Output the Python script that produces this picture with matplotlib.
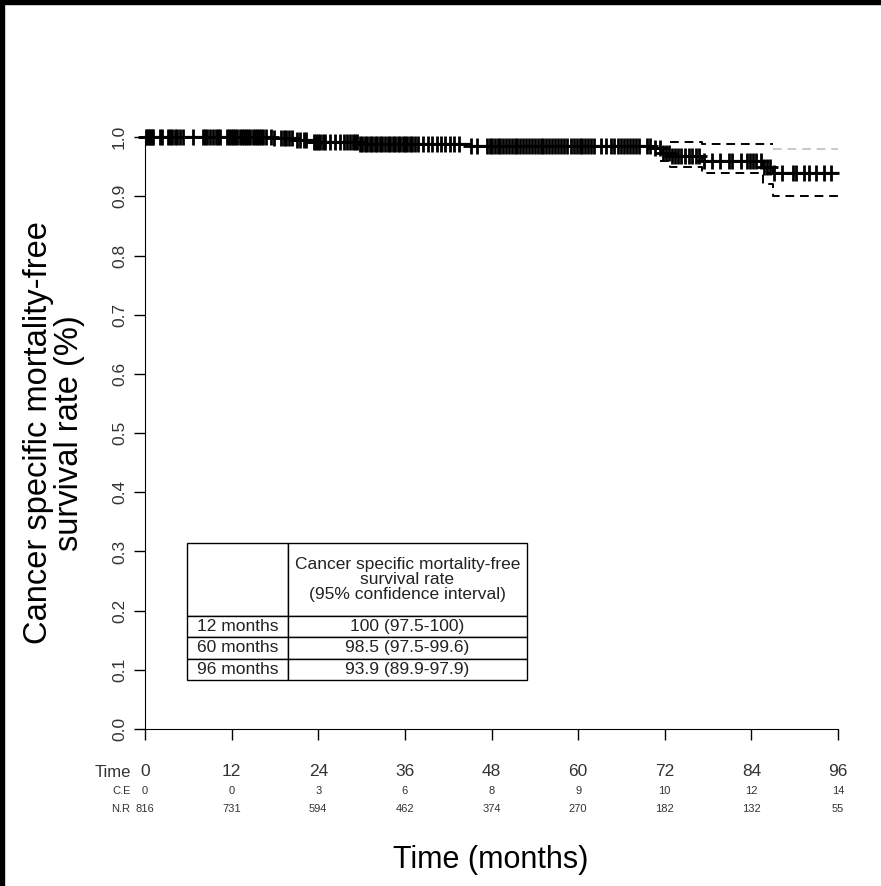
import matplotlib
matplotlib.use('Agg')
import matplotlib.pyplot as plt
import matplotlib.patches as mpatches
import numpy as np

plt.rcParams['font.family'] = ['Liberation Sans', 'DejaVu Sans']

# Kaplan-Meier steps (months, survival)
event_t = [0, 17.5, 21.0, 23.3, 29.5, 45.0, 70.4, 71.6, 72.7, 77.1, 85.6, 87.0]
surv = [1.0, 0.998, 0.996, 0.992, 0.989, 0.985, 0.981, 0.974, 0.968, 0.960, 0.949, 0.939]
t_end = 96

# 95% CI (visible part only)
upper_t = [72.7, 77.1, 87.0]
upper = [0.991, 0.988, 0.980]
lower_t = [71.3, 72.7, 77.1, 85.6, 87.0]
lower = [0.960, 0.949, 0.939, 0.921, 0.901]

# censoring times (months)
censored = [0.1, 0.3, 0.5, 0.7, 0.9, 1.1, 2.1, 2.4, 3.2, 3.5, 3.8, 4.1, 4.4, 4.9, 5.3, 6.6,
            8.0, 8.3, 8.6, 9.0, 9.4, 9.8, 10.1, 10.4,
            11.3, 11.6, 11.9, 12.2, 12.5, 12.8, 13.1, 13.4, 13.7, 14.0, 14.3, 14.6, 14.9,
            15.2, 15.5, 15.8, 16.1, 16.4, 16.8, 17.4, 17.9, 18.8, 19.2, 19.6, 20.0, 20.4,
            21.1, 21.5, 22.0, 22.3, 23.4, 23.7, 24.0, 24.3, 24.7, 25.0, 25.6, 26.3, 27.0,
            27.6, 28.0, 28.4, 28.8, 29.1, 29.4, 29.8, 30.1, 30.5, 30.8, 31.1, 31.5, 31.8,
            32.1, 32.5, 32.8, 33.2, 33.6, 34.0, 34.3, 34.6, 35.0, 35.3, 35.7, 36.0, 36.3,
            36.7, 37.0, 37.4, 37.8, 38.5, 39.2, 39.8, 40.5, 41.0, 41.6, 42.3, 42.8, 43.5,
            45.2, 46.0, 47.4, 47.8, 48.1, 48.5, 48.9, 49.2, 49.6, 50.0, 50.4, 50.8, 51.2,
            51.6, 52.0, 52.4, 52.8, 53.2, 53.6, 54.0, 54.4, 54.8, 55.2, 55.6, 56.0, 56.4,
            56.8, 57.2, 57.6, 58.0, 58.5, 59.0, 59.4, 59.8, 60.2, 60.6, 61.0, 61.4, 61.8,
            62.2, 63.2, 63.8, 64.5, 65.0, 65.5, 66.0, 66.4, 66.8, 67.2, 67.6, 68.0, 68.4,
            69.6, 70.0, 70.6, 71.4, 71.8, 72.2, 72.6, 73.0, 73.4, 73.8, 74.3, 74.8, 75.3,
            75.8, 76.3, 76.8, 77.5, 78.6, 79.7, 80.9, 81.3, 82.5, 83.4, 83.8, 84.2, 84.6,
            85.3, 85.7, 86.2, 86.6, 87.2, 88.3, 89.7, 90.2, 91.3, 92.0, 93.0, 94.1, 95.0]

# risk table
time_ticks = [0, 12, 24, 36, 48, 60, 72, 84, 96]
cum_events = [0, 0, 3, 6, 8, 9, 10, 12, 14]
n_risk = [816, 731, 594, 462, 374, 270, 182, 132, 55]

table_rows = ['12 months', '60 months', '96 months']
table_vals = ['100 (97.5-100)', '98.5 (97.5-99.6)', '93.9 (89.9-97.9)']
table_head = 'Cancer specific mortality-free\nsurvival rate\n(95% confidence interval)'

fig = plt.figure(figsize=(8.81, 8.86), dpi=100)
ax = fig.add_axes([0.1646, 0.1772, 0.7866, 0.668])

# curve
ax.step(event_t + [t_end], surv + [surv[-1]], where='post', color='k', lw=1.6, clip_on=False)
s_cens = np.array(surv)[np.searchsorted(event_t, censored, side='right') - 1]
ax.plot(censored, s_cens, ls='none', marker='+', ms=12, mew=2.0, color='k', clip_on=False)

dash = (0, (4.5, 3))
ax.step(upper_t[:-1] + [upper_t[-1]], upper[:-1] + [upper[-2]], where='post',
        color='k', lw=1.4, ls=dash)
ax.step(upper_t[-1:] + [t_end], upper[-1:] + [upper[-1]], where='post',
        color='#c8c8c8', lw=1.4, ls=dash)
ax.step(lower_t + [t_end], lower + [lower[-1]], where='post', color='k', lw=1.4, ls=dash)

ax.set_xlim(0, 96)
ax.set_ylim(0, 1.0)
for s in ['top', 'right']:
    ax.spines[s].set_visible(False)
ax.spines['left'].set_bounds(0, 1)
ax.spines['bottom'].set_bounds(0, 96)

ax.set_yticks(np.linspace(0, 1, 11))
ax.set_yticklabels(['%.1f' % v for v in np.linspace(0, 1, 11)], rotation=90,
                   va='center', color='#333333')
ax.tick_params(axis='y', length=8, width=1, pad=5, labelsize=12.5)

ax.set_xticks(time_ticks)
ax.set_xticklabels([str(t) for t in time_ticks], color='#333333')
ax.tick_params(axis='x', length=8, width=1, pad=17, labelsize=12.5)

tr = ax.get_xaxis_transform()
ax.text(-2.0, -0.0735, 'Time', transform=tr, ha='right', va='center', fontsize=12, color='#333333')
ax.text(-2.0, -0.104, 'C.E', transform=tr, ha='right', va='center', fontsize=8, color='#333333')
ax.text(-2.0, -0.1345, 'N.R', transform=tr, ha='right', va='center', fontsize=8, color='#333333')
for t, ce, nr in zip(time_ticks, cum_events, n_risk):
    ax.text(t, -0.104, str(ce), transform=tr, ha='center', va='center', fontsize=8, color='#333333')
    ax.text(t, -0.1345, str(nr), transform=tr, ha='center', va='center', fontsize=8, color='#333333')

fig.text(54 / 881, 1 - 433 / 886, 'Cancer specific mortality-free\nsurvival rate (%)',
         rotation=90, ha='center', va='center', fontsize=23.5, linespacing=1.02)
fig.text(491 / 881, 1 - 860 / 886, 'Time (months)', ha='center', va='center', fontsize=22)

# inset table
tab = ax.table(cellText=[['', table_head]] + [[r, v] for r, v in zip(table_rows, table_vals)],
               colWidths=[0.297, 0.703], cellLoc='center',
               bbox=[0.0606, 0.0828, 0.4906, 0.2314])
tab.auto_set_font_size(False)
tab.set_fontsize(12.5)
h = tab[1, 0].get_height()
tab[0, 0].set_height(h * 3.4)
tab[0, 1].set_height(h * 3.4)
for cell in tab.get_celld().values():
    cell.set_linewidth(1.0)
    cell.get_text().set_color('#222222')
    cell.get_text().set_linespacing(1.0)

# black scan border
fig.patches.append(mpatches.Rectangle((0, 1 - 4 / 886), 1, 4 / 886, transform=fig.transFigure,
                                      color='k', zorder=10))
fig.patches.append(mpatches.Rectangle((0, 0), 4 / 881, 1, transform=fig.transFigure,
                                      color='k', zorder=10))

fig.savefig('out.png', dpi=100)
